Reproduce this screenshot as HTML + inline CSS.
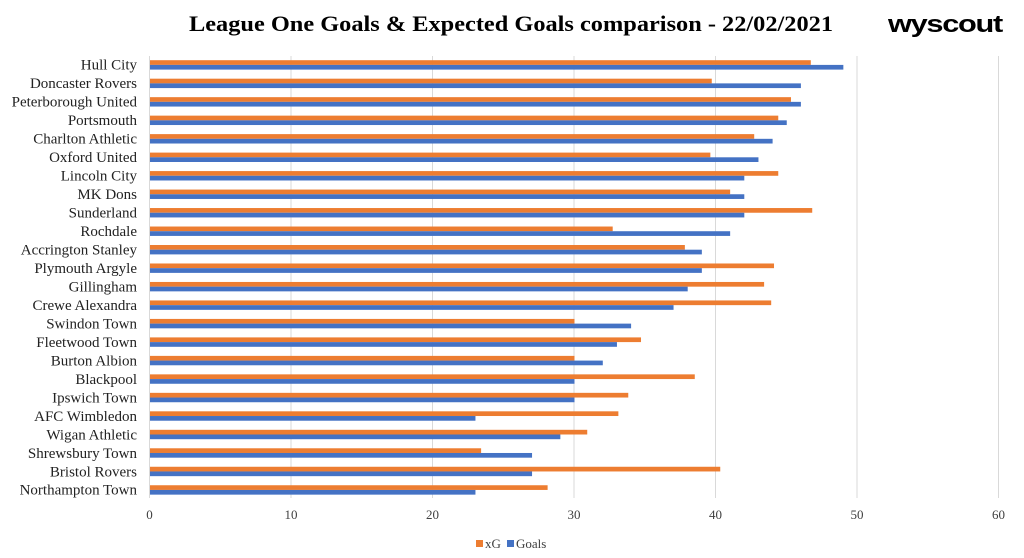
<!DOCTYPE html>
<html><head><meta charset="utf-8"><style>body{margin:0;background:#fff}svg{display:block}</style></head><body>
<svg width="1024" height="558" xmlns="http://www.w3.org/2000/svg" font-family="Liberation Serif, serif">
<rect width="1024" height="558" fill="#fff"/>
<text x="189" y="31" font-size="22" font-weight="bold" textLength="644" lengthAdjust="spacingAndGlyphs">League One Goals &amp; Expected Goals comparison - 22/02/2021</text>
<text x="888" y="32" font-family="Liberation Sans, sans-serif" font-size="24" font-weight="bold" textLength="114" lengthAdjust="spacingAndGlyphs" letter-spacing="-1">wyscout</text>
<g stroke="#d9d9d9" stroke-width="1">
<line x1="149.5" y1="56" x2="149.5" y2="498"/><line x1="291" y1="56" x2="291" y2="498"/><line x1="432.5" y1="56" x2="432.5" y2="498"/><line x1="574" y1="56" x2="574" y2="498"/><line x1="715.5" y1="56" x2="715.5" y2="498"/><line x1="857" y1="56" x2="857" y2="498"/><line x1="998.5" y1="56" x2="998.5" y2="498"/>
</g>
<g font-size="13" fill="#404040" text-anchor="middle">
<text x="149.5" y="519">0</text><text x="291" y="519">10</text><text x="432.5" y="519">20</text><text x="574" y="519">30</text><text x="715.5" y="519">40</text><text x="857" y="519">50</text><text x="998.5" y="519">60</text>
</g>
<g id="bars"></g>
<g id="labels" font-size="14.5" fill="#222" text-anchor="end"></g>
<rect x="476" y="540" width="7" height="7" fill="#ed7d31"/><text x="485" y="548" font-size="13" fill="#404040">xG</text>
<rect x="507" y="540" width="7" height="7" fill="#4472c4"/><text x="516" y="548" font-size="13" fill="#404040">Goals</text>
<script>
var d=[["Hull City",46.7,49],["Doncaster Rovers",39.7,46],["Peterborough United",45.3,46],["Portsmouth",44.4,45],["Charlton Athletic",42.7,44],["Oxford United",39.6,43],["Lincoln City",44.4,42],["MK Dons",41,42],["Sunderland",46.8,42],["Rochdale",32.7,41],["Accrington Stanley",37.8,39],["Plymouth Argyle",44.1,39],["Gillingham",43.4,38],["Crewe Alexandra",43.9,37],["Swindon Town",30,34],["Fleetwood Town",34.7,33],["Burton Albion",30,32],["Blackpool",38.5,30],["Ipswich Town",33.8,30],["AFC Wimbledon",33.1,23],["Wigan Athletic",30.9,29],["Shrewsbury Town",23.4,27],["Bristol Rovers",40.3,27],["Northampton Town",28.1,23]];
var ns="http://www.w3.org/2000/svg",b=document.getElementById("bars"),l=document.getElementById("labels");
d.forEach(function(r,i){var y=60.2+18.48*i;
function R(v,yy,c){var e=document.createElementNS(ns,"rect");e.setAttribute("x",150);e.setAttribute("y",yy);e.setAttribute("width",v*14.15);e.setAttribute("height",4.7);e.setAttribute("fill",c);b.appendChild(e);}
R(r[1],y,"#ed7d31");R(r[2],y+4.7,"#4472c4");
var t=document.createElementNS(ns,"text");t.setAttribute("x",137);t.setAttribute("y",y+9.5);t.setAttribute("font-size",15);t.textContent=r[0];l.appendChild(t);});
</script>
</svg>
</body></html>
